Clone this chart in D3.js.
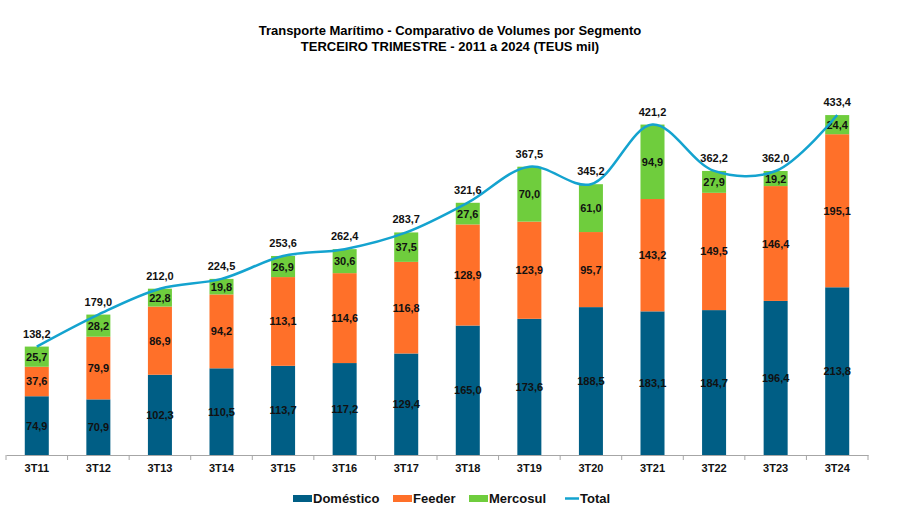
<!DOCTYPE html>
<html><head><meta charset="utf-8">
<script src="https://cdn.jsdelivr.net/npm/d3@7"></script>
<style>body{margin:0;background:#fff}svg{display:block;font-family:"Liberation Sans",Arial,sans-serif}</style>
</head><body>
<svg id="c" width="900" height="530"></svg>
<script>
const categories = ["3T11","3T12","3T13","3T14","3T15","3T16","3T17","3T18","3T19","3T20","3T21","3T22","3T23","3T24"];
const domestico = [74.9,70.9,102.3,110.5,113.7,117.2,129.4,165.0,173.6,188.5,183.1,184.7,196.4,213.8];
const feeder = [37.6,79.9,86.9,94.2,113.1,114.6,116.8,128.9,123.9,95.7,143.2,149.5,146.4,195.1];
const mercosul = [25.7,28.2,22.8,19.8,26.9,30.6,37.5,27.6,70.0,61.0,94.9,27.9,19.2,24.4];
const total = [138.2,179.0,212.0,224.5,253.6,262.4,283.7,321.6,367.5,345.2,421.2,362.2,362.0,433.4];
const seriesNames = ["Doméstico","Feeder","Mercosul"];
const colors = ["#005E85","#FF7029","#6FCD3D"];
const lineColor = "#14A3CF";

const svg = d3.select("#c");
const fmt = v => v.toFixed(1).replace(".", ",");

const x = d3.scaleBand().domain(categories).range([6, 868]).paddingInner(0.61).paddingOuter(0.305);
const y = d3.scaleLinear().domain([0, 433.4]).range([455, 115]);

// title
svg.append("text").attr("x",450).attr("y",35).attr("text-anchor","middle")
  .attr("font-size",13).attr("font-weight","bold").text("Transporte Marítimo - Comparativo de Volumes por Segmento");
svg.append("text").attr("x",450).attr("y",51).attr("text-anchor","middle")
  .attr("font-size",13).attr("font-weight","bold").text("TERCEIRO TRIMESTRE - 2011 a 2024 (TEUS mil)");

const rows = categories.map((c,i)=>({cat:c, "Doméstico":domestico[i], "Feeder":feeder[i], "Mercosul":mercosul[i]}));
const stack = d3.stack().keys(seriesNames)(rows);

const g = svg.append("g");
stack.forEach((s,si)=>{
  g.selectAll(null).data(s).enter().append("rect")
    .attr("x", d=>x(d.data.cat)).attr("width", x.bandwidth())
    .attr("y", d=>y(d[1])).attr("height", d=>y(d[0])-y(d[1]))
    .attr("fill", colors[si]);
});
stack.forEach((s,si)=>{
  g.selectAll(null).data(s).enter().append("text")
    .attr("x", d=>x(d.data.cat)+x.bandwidth()/2)
    .attr("y", d=>(y(d[0])+y(d[1]))/2+4)
    .attr("text-anchor","middle").attr("font-size",11).attr("font-weight","bold").attr("fill","#111")
    .text(d=>fmt(d.data[seriesNames[si]]));
});

// axis
const ax = svg.append("g").attr("transform","translate(0,455)")
  .call(d3.axisBottom(x).tickSize(0).tickPadding(9));
ax.select(".domain").attr("stroke","#a6a6a6");
ax.selectAll("text").attr("font-size",11).attr("font-weight","bold").attr("fill","#111")
  .attr("font-family","\"Liberation Sans\",Arial,sans-serif");
const step = x.step();
const edges = categories.map(c=>x(c)+x.bandwidth()/2-step/2).concat([x(categories[categories.length-1])+x.bandwidth()/2+step/2]);
svg.selectAll(null).data(edges).enter().append("line")
  .attr("x1",d=>d).attr("x2",d=>d).attr("y1",455).attr("y2",460).attr("stroke","#a6a6a6");

// total line
const line = d3.line().x((d,i)=>x(categories[i])+x.bandwidth()/2).y(d=>y(d)).curve(d3.curveCatmullRom.alpha(0.5));
svg.append("path").datum(total).attr("d",line).attr("fill","none").attr("stroke",lineColor).attr("stroke-width",2.5);
svg.selectAll(null).data(total).enter().append("text")
  .attr("x",(d,i)=>x(categories[i])+x.bandwidth()/2).attr("y",d=>y(d)-9)
  .attr("text-anchor","middle").attr("font-size",11).attr("font-weight","bold").attr("fill","#111")
  .text(d=>fmt(d));

// legend
const leg = [
  {name:"Doméstico", color:colors[0], x:293, type:"rect"},
  {name:"Feeder", color:colors[1], x:393, type:"rect"},
  {name:"Mercosul", color:colors[2], x:469, type:"rect"},
  {name:"Total", color:lineColor, x:565, type:"line"}
];
leg.forEach(l=>{
  if(l.type==="rect") svg.append("rect").attr("x",l.x).attr("y",495).attr("width",19).attr("height",7).attr("fill",l.color);
  else svg.append("line").attr("x1",l.x).attr("x2",l.x+14).attr("y1",498.5).attr("y2",498.5).attr("stroke",l.color).attr("stroke-width",2.5);
  svg.append("text").attr("x",l.x+(l.type==="rect"?20:15)).attr("y",503).attr("font-size",13).attr("font-weight","bold").attr("fill","#111").text(l.name);
});
</script>
</body></html>
